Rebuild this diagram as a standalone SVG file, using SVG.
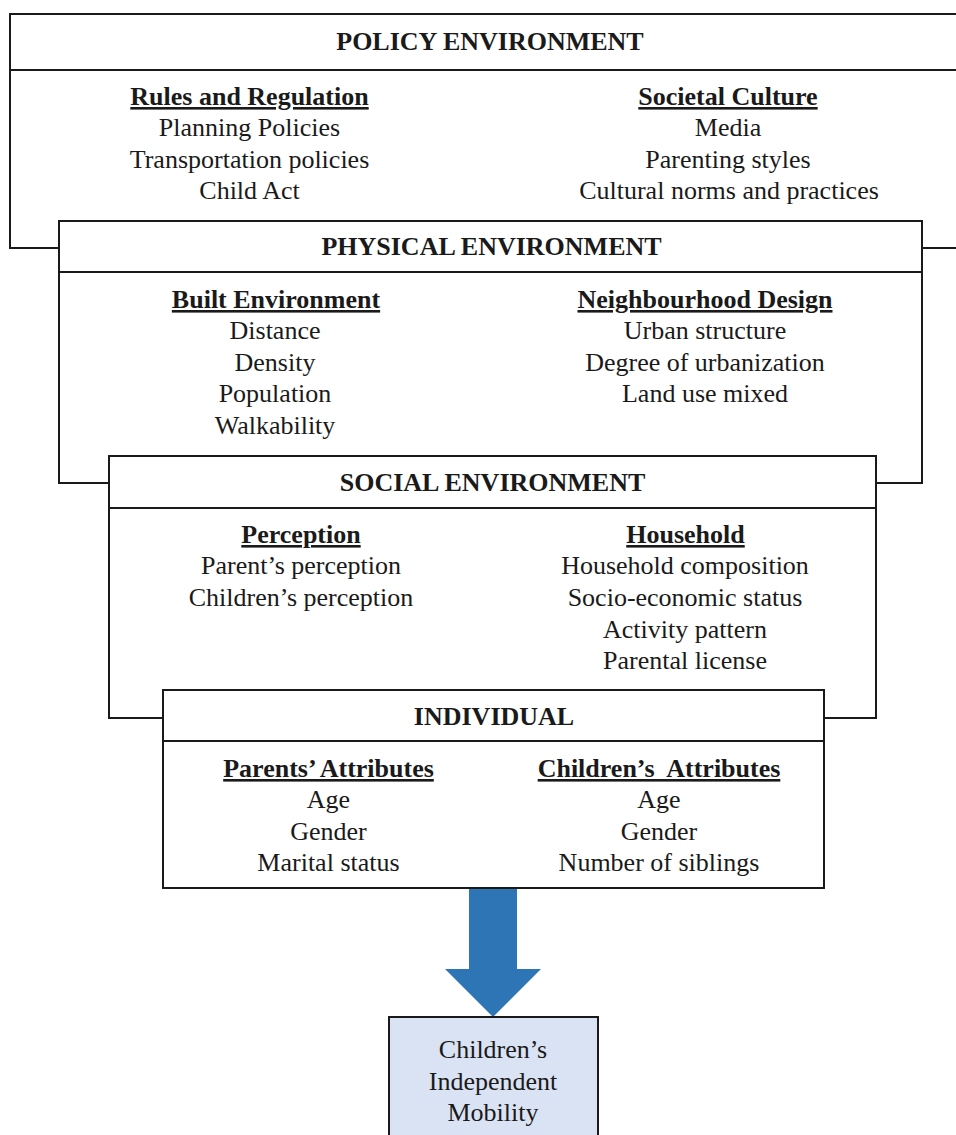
<svg xmlns="http://www.w3.org/2000/svg" width="956" height="1135" viewBox="0 0 956 1135">
<style>
.box{fill:#fff;stroke:#1a1a1a;stroke-width:2}
.hl{stroke:#1a1a1a;stroke-width:2}
text{font-family:"Liberation Serif","Times New Roman",serif;font-size:26px;fill:#1a1a1a;text-anchor:middle}
.h{font-weight:bold}
.u{font-weight:bold;text-decoration:underline}
</style>
<rect width="956" height="1135" fill="#fff"/>
<g id="policy">
<rect class="box" x="10" y="14" width="952" height="234"/>
<line class="hl" x1="10" y1="70" x2="962" y2="70"/>
<text class="h" x="490" y="50">POLICY ENVIRONMENT</text>
<text class="u" x="249.5" y="105">Rules and Regulation</text>
<text x="249.5" y="136">Planning Policies</text>
<text x="249.5" y="168">Transportation policies</text>
<text x="249.5" y="199">Child Act</text>
<text class="u" x="728" y="105">Societal Culture</text>
<text x="728" y="136">Media</text>
<text x="728" y="168">Parenting styles</text>
<text x="729" y="199">Cultural norms and practices</text>
</g>
<g id="physical">
<rect class="box" x="59" y="221" width="863" height="262"/>
<line class="hl" x1="59" y1="272" x2="922" y2="272"/>
<text class="h" x="491.5" y="255">PHYSICAL ENVIRONMENT</text>
<text class="u" x="276" y="308">Built Environment</text>
<text x="275" y="339">Distance</text>
<text x="275" y="371">Density</text>
<text x="275" y="402">Population</text>
<text x="275" y="434">Walkability</text>
<text class="u" x="705" y="308">Neighbourhood Design</text>
<text x="705" y="339">Urban structure</text>
<text x="705" y="371">Degree of urbanization</text>
<text x="705" y="402">Land use mixed</text>
</g>
<g id="social">
<rect class="box" x="109" y="456" width="767" height="262"/>
<line class="hl" x1="109" y1="508" x2="876" y2="508"/>
<text class="h" x="492.5" y="491">SOCIAL ENVIRONMENT</text>
<text class="u" x="301" y="543">Perception</text>
<text x="301" y="574">Parent’s perception</text>
<text x="301" y="606">Children’s perception</text>
<text class="u" x="685.5" y="543">Household</text>
<text x="685" y="574">Household composition</text>
<text x="685" y="606">Socio-economic status</text>
<text x="685" y="638">Activity pattern</text>
<text x="685" y="669">Parental license</text>
</g>
<g id="individual">
<rect class="box" x="163" y="690" width="661" height="198"/>
<line class="hl" x1="163" y1="741" x2="824" y2="741"/>
<text class="h" x="494" y="725">INDIVIDUAL</text>
<text class="u" x="328.5" y="777">Parents’ Attributes</text>
<text x="328.5" y="808">Age</text>
<text x="328.5" y="840">Gender</text>
<text x="328.5" y="871">Marital status</text>
<text class="u" x="659" y="777">Children’s&#160; Attributes</text>
<text x="659" y="808">Age</text>
<text x="659" y="840">Gender</text>
<text x="659" y="871">Number of siblings</text>
</g>
<g id="connectors">
<polygon points="469,889 517,889 517,969 541,969 493,1017 445,969 469,969" fill="#2e75b6"/>
</g>
<g id="outcome">
<rect x="389" y="1017" width="209" height="130" fill="#dae3f3" stroke="#1a1a1a" stroke-width="2"/>
<text x="493" y="1058">Children’s</text>
<text x="493" y="1090">Independent</text>
<text x="493" y="1121">Mobility</text>
</g>
</svg>
